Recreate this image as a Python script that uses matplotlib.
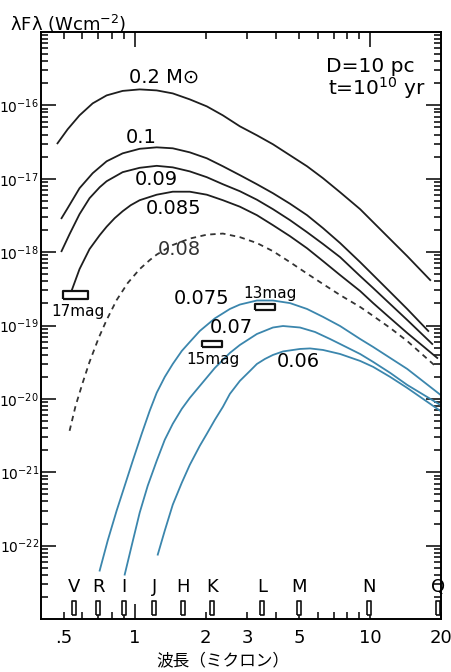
import numpy as np
import matplotlib
matplotlib.use("Agg")
import matplotlib.pyplot as plt
from matplotlib.ticker import FixedLocator, FuncFormatter, LogLocator, NullFormatter

# --- data (wavelength in micron, lambda*F_lambda in W cm^-2) ---
wl_020 = [0.470, 0.519, 0.583, 0.663, 0.760, 0.889, 1.050, 1.240, 1.451, 1.714, 2.025, 2.369,
          2.798, 3.304, 3.866, 4.566, 5.395, 6.310, 7.454, 9.068, 10.30, 12.17, 14.37, 18.00]
fl_020 = [3.04e-17, 4.72e-17, 7.31e-17, 1.065e-16, 1.368e-16, 1.575e-16, 1.651e-16, 1.60e-16,
          1.456e-16, 1.207e-16, 9.69e-17, 7.31e-17, 5.18e-17, 3.91e-17, 2.95e-17, 2.09e-17,
          1.48e-17, 1.016e-17, 6.55e-18, 3.85e-18, 2.56e-18, 1.50e-18, 8.82e-19, 4.16e-19]

wl_010 = [0.489, 0.519, 0.583, 0.663, 0.760, 0.889, 1.050, 1.240, 1.451, 1.714, 2.025, 2.369,
          2.798, 3.304, 3.866, 4.566, 5.395, 6.310, 7.454, 9.068, 10.30, 12.17, 14.37, 17.66]
fl_010 = [2.90e-18, 3.97e-18, 7.43e-18, 1.19e-17, 1.73e-17, 2.22e-17, 2.56e-17, 2.68e-17,
          2.60e-17, 2.29e-17, 1.90e-17, 1.48e-17, 1.12e-17, 8.42e-18, 6.35e-18, 4.57e-18,
          3.19e-18, 2.12e-18, 1.33e-18, 7.31e-19, 4.87e-19, 2.86e-19, 1.68e-19, 8.42e-20]

wl_009 = [0.489, 0.529, 0.583, 0.643, 0.710, 0.760, 0.889, 1.050, 1.240, 1.451, 1.714, 2.025,
          2.369, 2.798, 3.304, 3.866, 4.566, 5.395, 6.310, 7.454, 9.068, 10.30, 12.17, 14.37,
          18.36]
fl_009 = [1.03e-18, 1.76e-18, 3.29e-18, 5.43e-18, 7.66e-18, 9.25e-18, 1.23e-17, 1.41e-17,
          1.50e-17, 1.43e-17, 1.26e-17, 1.05e-17, 8.42e-18, 6.76e-18, 5.18e-18, 3.85e-18,
          2.73e-18, 1.87e-18, 1.29e-18, 8.55e-19, 4.72e-19, 3.24e-19, 1.96e-19, 1.19e-19,
          5.60e-20]

wl_0085 = [0.539, 0.583, 0.643, 0.710, 0.760, 0.822, 0.889, 0.962, 1.050, 1.240, 1.451, 1.714,
           2.025, 2.369, 2.798, 3.304, 3.866, 4.566, 5.395, 6.310, 7.454, 9.068, 10.30, 12.17,
           14.37, 19.28]
fl_0085 = [2.95e-19, 5.87e-19, 1.10e-18, 1.70e-18, 2.22e-18, 2.90e-18, 3.61e-18, 4.36e-18,
           5.10e-18, 6.06e-18, 6.66e-18, 6.66e-18, 6.06e-18, 5.10e-18, 4.16e-18, 3.19e-18,
           2.33e-18, 1.65e-18, 1.13e-18, 7.54e-19, 4.87e-19, 2.95e-19, 2.02e-19, 1.26e-19,
           7.91e-20, 3.61e-20]

wl_008 = [0.529, 0.561, 0.601, 0.643, 0.703, 0.760, 0.838, 0.934, 1.050, 1.158, 1.240, 1.451,
          1.714, 2.025, 2.369, 2.798, 3.304, 3.866, 4.566, 5.395, 6.310, 7.454, 9.068, 10.30,
          12.17, 14.37, 18.91]
fl_008 = [3.67e-21, 8.03e-21, 1.65e-20, 3.19e-20, 6.76e-20, 1.19e-19, 2.22e-19, 3.79e-19,
          5.87e-19, 7.78e-19, 9.25e-19, 1.25e-18, 1.53e-18, 1.73e-18, 1.79e-18, 1.60e-18,
          1.33e-18, 1.03e-18, 7.31e-19, 5.10e-19, 3.67e-19, 2.60e-19, 1.79e-19, 1.35e-19,
          9.25e-20, 6.15e-20, 2.81e-20]

wl_0075 = [0.710, 0.768, 0.838, 0.907, 0.981, 1.071, 1.158, 1.240, 1.342, 1.451, 1.585, 1.714,
           1.890, 2.190, 2.537, 2.798, 3.304, 3.866, 4.566, 5.395, 6.310, 7.454, 9.068, 10.30,
           12.17, 14.37, 19.86]
fl_0075 = [4.57e-23, 1.17e-22, 2.99e-22, 6.55e-22, 1.43e-21, 3.34e-21, 6.87e-21, 1.21e-20,
           1.99e-20, 2.99e-20, 4.50e-20, 5.96e-20, 8.42e-20, 1.25e-19, 1.68e-19, 1.93e-19,
           2.19e-19, 2.19e-19, 2.02e-19, 1.68e-19, 1.31e-19, 9.84e-20, 6.55e-20, 5.10e-20,
           3.61e-20, 2.56e-20, 1.14e-20]

wl_007 = [0.907, 0.971, 1.050, 1.136, 1.240, 1.342, 1.451, 1.585, 1.714, 1.890, 2.190, 2.537,
          2.798, 3.304, 3.866, 4.264, 5.036, 5.834, 6.755, 7.454, 9.068, 10.30, 12.17, 14.37,
          19.86]
fl_007 = [4.03e-23, 1.00e-22, 2.81e-22, 6.55e-22, 1.43e-21, 2.77e-21, 4.57e-21, 7.31e-21,
          1.03e-20, 1.50e-20, 2.64e-20, 4.23e-20, 5.43e-20, 7.66e-20, 9.39e-20, 9.84e-20,
          9.39e-20, 8.16e-20, 6.55e-20, 5.60e-20, 4.09e-20, 3.19e-20, 2.26e-20, 1.55e-20,
          8.28e-21]

wl_006 = [1.253, 1.342, 1.451, 1.585, 1.714, 1.890, 2.025, 2.190, 2.369, 2.537, 2.798, 3.086,
          3.304, 3.574, 3.866, 4.264, 5.036, 5.556, 6.310, 7.454, 9.068, 10.30, 12.17, 14.37,
          19.86]
fl_006 = [7.54e-23, 1.60e-22, 3.61e-22, 7.19e-22, 1.26e-21, 2.29e-21, 3.34e-21, 5.18e-21,
          7.78e-21, 1.17e-20, 1.76e-20, 2.40e-20, 2.99e-20, 3.50e-20, 3.97e-20, 4.43e-20,
          4.79e-20, 4.87e-20, 4.64e-20, 4.09e-20, 3.29e-20, 2.73e-20, 1.99e-20, 1.41e-20,
          6.87e-21]

# observed magnitude limits (boxes)
mag_labels = ["17mag", "15mag", "13mag"]
mag_wl = [0.556, 2.12, 3.57]
mag_fl = [2.62e-19, 5.65e-20, 1.79e-19]

# photometric bands
band_names = ["V", "R", "I", "J", "H", "K", "L", "M", "N", "Q"]
band_wl = [0.55, 0.70, 0.90, 1.21, 1.60, 2.13, 3.48, 5.0, 9.9, 19.5]

black_curves = [(wl_020, fl_020), (wl_010, fl_010), (wl_009, fl_009), (wl_0085, fl_0085)]
blue_curves = [(wl_0075, fl_0075), (wl_007, fl_007), (wl_006, fl_006)]

plt.rcParams['font.family'] = ['DejaVu Sans']

fig = plt.figure(figsize=(4.51, 6.72), dpi=100, facecolor='white')
ax = fig.add_axes([41 / 451, 53 / 672, 400 / 451, 587 / 672])

for wl, fl in black_curves:
    ax.plot(wl, fl, color='#1e1e1e', lw=1.3, solid_joinstyle='round')
ax.plot(wl_008, fl_008, color='#333333', lw=1.3, linestyle=(0, (3, 2.5)))
for wl, fl in blue_curves:
    ax.plot(wl, fl, color='#3b86ad', lw=1.3, solid_joinstyle='round')

# magnitude boxes
box_w = [(-1, -0.28), (1, -0.28), (1, 0.28), (-1, 0.28), (-1, -0.28)]
ax.plot(mag_wl[:1], mag_fl[:1], ls='none', marker=box_w, ms=18, mfc='white',
        mec='#111111', mew=1.6)
ax.plot(mag_wl[1:], mag_fl[1:], ls='none', marker=box_w, ms=14.5, mfc='white',
        mec='#111111', mew=1.6)

# band boxes along the bottom
trans = ax.get_xaxis_transform()
box_t = [(-0.3, -1), (0.3, -1), (0.3, 1), (-0.3, 1), (-0.3, -1)]
ax.plot(band_wl, [0.019] * len(band_wl), transform=trans, ls='none', marker=box_t,
        ms=9.5, mfc='white', mec='#111111', mew=1.2, clip_on=False)
for name, w in zip(band_names, band_wl):
    ax.text(w, 0.055, name, transform=trans, ha='center', va='center', fontsize=13)

ax.set_xscale('log')
ax.set_yscale('log')
ax.set_xlim(0.4, 20)
ax.set_ylim(1e-23, 1e-15)

# curve labels
ax.text(1.34, 2.4e-16, "0.2 M⊙", fontsize=14, ha='center', va='center')
ax.text(1.07, 3.67e-17, "0.1", fontsize=14, ha='center', va='center')
ax.text(1.24, 9.9e-18, "0.09", fontsize=14, ha='center', va='center')
ax.text(1.46, 3.97e-18, "0.085", fontsize=14, ha='center', va='center')
ax.text(1.55, 1.07e-18, "0.08", fontsize=14, ha='center', va='center', color='#333333')
ax.text(1.92, 2.37e-19, "0.075", fontsize=14, ha='center', va='center')
ax.text(2.58, 9.25e-20, "0.07", fontsize=14, ha='center', va='center')
ax.text(4.95, 3.26e-20, "0.06", fontsize=14, ha='center', va='center')

ax.text(0.574, 1.57e-19, mag_labels[0], fontsize=11, ha='center', va='center')
ax.text(2.154, 3.43e-20, mag_labels[1], fontsize=11, ha='center', va='center')
ax.text(3.75, 2.77e-19, mag_labels[2], fontsize=11, ha='center', va='center')

ax.text(0.823, 0.941, "D=10 pc", transform=ax.transAxes, fontsize=14.5, ha='center',
        va='center')
ax.text(0.84, 0.905, "t=10$^{10}$ yr", transform=ax.transAxes, fontsize=14.5,
        ha='center', va='center')

# x ticks
x_labels = {0.5: ".5", 1: "1", 2: "2", 3: "3", 5: "5", 10: "10", 20: "20"}
ax.xaxis.set_major_locator(FixedLocator([1, 10]))
ax.xaxis.set_minor_locator(FixedLocator([0.5, 0.6, 0.7, 0.8, 0.9, 2, 3, 4, 5, 6, 7, 8, 9, 20]))
fmt = FuncFormatter(lambda v, p: x_labels.get(round(v, 2), ""))
ax.xaxis.set_major_formatter(fmt)
ax.xaxis.set_minor_formatter(fmt)

# y ticks
ax.yaxis.set_major_locator(FixedLocator([10.0 ** k for k in range(-22, -15)]))
ax.yaxis.set_major_formatter(FuncFormatter(
    lambda v, p: "$10^{%d}$" % int(round(np.log10(v)))))
ax.yaxis.set_minor_locator(LogLocator(base=10, subs=np.arange(2, 10), numticks=20))
ax.yaxis.set_minor_formatter(NullFormatter())

ax.tick_params(which='both', direction='in', top=True, right=True, width=1.1)
ax.tick_params(which='major', length=11)
ax.tick_params(which='minor', length=5)
ax.tick_params(axis='x', which='both', labelsize=13, pad=7)
ax.tick_params(axis='y', which='major', labelsize=10, pad=1.5)
for s in ax.spines.values():
    s.set_linewidth(1.4)

fig.text(10 / 451, 1 - 24 / 672, "λFλ (Wcm$^{-2}$)", fontsize=13, ha='left', va='center')
fig.text(0.494, 0.016, "波長（ミクロン）", fontsize=12, ha='center', va='center',
         family=['Noto Sans CJK JP', 'DejaVu Sans'])

fig.savefig("out.png", dpi=100, facecolor='white')
